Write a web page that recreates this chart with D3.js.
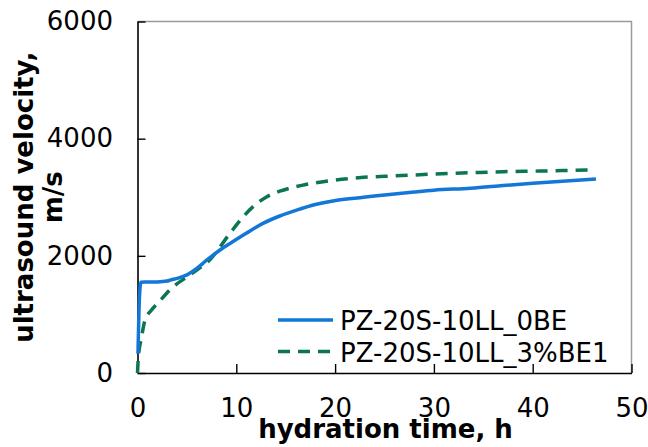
<!DOCTYPE html>
<html>
<head>
<meta charset="utf-8">
<script src="https://cdn.jsdelivr.net/npm/d3@7"></script>
<style>
  html, body { margin: 0; padding: 0; background: #ffffff; }
  #chart { width: 648px; height: 447px; }
</style>
</head>
<body>
<div id="chart"></div>
<script>
// hours of hydration / velocity (m/s)
const time0BE = [0.05, 0.2, 0.35, 1, 2, 3, 3.3, 4, 5, 6, 7, 8.35, 9.4, 11, 12.7, 14.4, 16.1, 18.1, 20.2, 22.9, 25, 28, 30, 33.7, 37, 40, 43, 46.4];
const vel0BE = [330, 1300, 1550, 1552, 1555, 1570, 1585, 1615, 1675, 1785, 1925, 2100, 2215, 2385, 2555, 2680, 2780, 2880, 2950, 3000, 3040, 3090, 3120, 3155, 3200, 3240, 3275, 3310];

const time3BE = [0, 0.08, 0.42, 0.76, 1.4, 2.1, 3.46, 5.15, 6.2, 7.3, 9.36, 10.7, 11.7, 13.1, 14.8, 16.8, 19.5, 22.9, 26, 30, 34, 37, 40, 43, 46];
const vel3BE = [0, 256, 620, 905, 1070, 1200, 1450, 1655, 1780, 1930, 2385, 2668, 2840, 3010, 3124, 3209, 3283, 3340, 3365, 3395, 3420, 3436, 3445, 3455, 3465];

const xTicks = [0, 10, 20, 30, 40, 50];
const yTicks = [0, 2000, 4000, 6000];

const seriesNames = ["PZ-20S-10LL_0BE", "PZ-20S-10LL_3%BE1"];
const seriesColors = ["#1277d6", "#0b7650"];

(function() {
  const width = 648, height = 447;
  const margin = { left: 137.5, right: 16.5, top: 21.5, bottom: 74 };
  const font = "'DejaVu Sans', Verdana, sans-serif";

  const svg = d3.select("#chart").append("svg")
    .attr("width", width).attr("height", height)
    .style("font-family", font);

  const x = d3.scaleLinear().domain([0, 50]).range([margin.left, width - margin.right]);
  const y = d3.scaleLinear().domain([0, 6000]).range([height - margin.bottom, margin.top]);

  // top / right frame
  svg.append("path")
    .attr("d", `M${x(0)},${y(6000)}H${x(50)}V${y(0)}`)
    .attr("fill", "none")
    .attr("stroke", "#9a9a9a")
    .attr("stroke-width", 1.5);

  const xAxis = svg.append("g")
    .attr("transform", `translate(0,${y(0)})`)
    .call(d3.axisBottom(x).tickValues(xTicks).tickFormat(d3.format("d"))
      .tickSizeInner(-9).tickSizeOuter(0).tickPadding(25.5));

  const yAxis = svg.append("g")
    .attr("transform", `translate(${x(0)},0)`)
    .call(d3.axisLeft(y).tickValues(yTicks).tickFormat(d3.format("d"))
      .tickSizeInner(-8).tickSizeOuter(0).tickPadding(24.5));

  [xAxis, yAxis].forEach(g => {
    g.select(".domain").attr("stroke", "#000").attr("stroke-width", 1.6);
    g.selectAll(".tick line").attr("stroke", "#000").attr("stroke-width", 1.4);
    g.selectAll(".tick text")
      .attr("fill", "#000")
      .style("font-family", font)
      .style("font-size", "26px");
  });

  const series = [
    { name: seriesNames[0], color: seriesColors[0], dash: null, pts: time0BE.map((t, i) => [t, vel0BE[i]]) },
    { name: seriesNames[1], color: seriesColors[1], dash: "12,8", pts: time3BE.map((t, i) => [t, vel3BE[i]]) }
  ];

  const line = d3.line()
    .x(d => x(d[0]))
    .y(d => y(d[1]))
    .curve(d3.curveMonotoneX);

  // green drawn first so the blue sits on top
  series.slice().reverse().forEach(s => {
    svg.append("path")
      .attr("d", line(s.pts))
      .attr("fill", "none")
      .attr("stroke", s.color)
      .attr("stroke-width", 3.5)
      .attr("stroke-dasharray", s.dash);
  });

  // legend
  const legend = svg.append("g");
  series.forEach((s, i) => {
    const ly = 320 + i * 31.5;
    legend.append("line")
      .attr("x1", 278).attr("x2", 333)
      .attr("y1", ly).attr("y2", ly)
      .attr("stroke", s.color)
      .attr("stroke-width", 3.5)
      .attr("stroke-dasharray", s.dash);
    legend.append("text")
      .attr("x", 340).attr("y", ly + 10)
      .style("font-size", "26px")
      .attr("fill", "#000")
      .text(s.name);
  });

  // axis titles
  svg.append("text")
    .attr("x", (x(0) + x(50)) / 2 + 1)
    .attr("y", 438)
    .attr("text-anchor", "middle")
    .style("font-size", "26px")
    .style("font-weight", "bold")
    .text("hydration time, h");

  const yc = (y(0) + y(6000)) / 2;
  svg.append("text")
    .attr("transform", `translate(33,${yc}) rotate(-90)`)
    .attr("text-anchor", "middle")
    .style("font-size", "26px")
    .style("font-weight", "bold")
    .text("ultrasound velocity,");
  svg.append("text")
    .attr("transform", `translate(62,${yc}) rotate(-90)`)
    .attr("text-anchor", "middle")
    .style("font-size", "26px")
    .style("font-weight", "bold")
    .text("m/s");
})();
</script>
</body>
</html>
